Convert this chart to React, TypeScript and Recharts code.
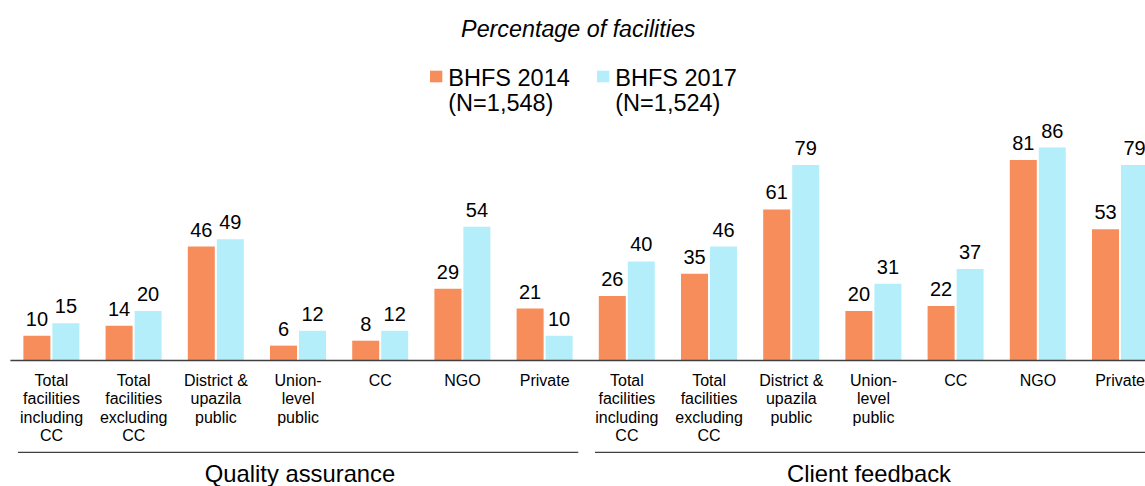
import React from "react";
import { BarChart, Bar, XAxis, YAxis, LabelList } from "recharts";

const categories: string[] = [
  "Total\nfacilities\nincluding\nCC",
  "Total\nfacilities\nexcluding\nCC",
  "District &\nupazila\npublic",
  "Union-\nlevel\npublic",
  "CC",
  "NGO",
  "Private",
  "Total\nfacilities\nincluding\nCC ",
  "Total\nfacilities\nexcluding\nCC ",
  "District &\nupazila\npublic ",
  "Union-\nlevel\npublic ",
  "CC ",
  "NGO ",
  "Private ",
];
const bhfs2014: number[] = [10, 14, 46, 6, 8, 29, 21, 26, 35, 61, 20, 22, 81, 53];
const bhfs2017: number[] = [15, 20, 49, 12, 12, 54, 10, 40, 46, 79, 31, 37, 86, 79];
const groups: string[] = ["Quality assurance", "Client feedback"];
const seriesNames: string[][] = [
  ["BHFS 2014", "(N=1,548)"],
  ["BHFS 2017", "(N=1,524)"],
];
const title = "Percentage of facilities";

const ORANGE = "#F68D5B";
const BLUE = "#B4EEFB";
const FONT = "'Liberation Sans', Arial, Helvetica, sans-serif";

const data = categories.map((c, i) => ({ cat: c, a: bhfs2014[i], b: bhfs2017[i] }));

const Tick = (props: any) => {
  const { x, y, payload } = props;
  const lines = String(payload.value).trim().split("\n");
  return (
    <text x={x} y={y + 17.5} textAnchor="middle" fontSize={16} fill="#000" fontFamily={FONT}>
      {lines.map((l, i) => (
        <tspan key={i} x={x} dy={i === 0 ? 0 : 18.3}>
          {l}
        </tspan>
      ))}
    </text>
  );
};

export default function App() {
  return (
    <div
      style={{
        position: "fixed",
        left: 0,
        top: 0,
        width: 1145,
        height: 486,
        overflow: "hidden",
        background: "#fff",
        fontFamily: FONT,
      }}
    >
      <BarChart
        width={1170}
        height={486}
        data={data}
        margin={{ top: 112.9, right: 8.8, bottom: 0, left: 10.4 }}
        barSize={27}
        barGap={2}
      >
        <XAxis
          dataKey="cat"
          height={125.5}
          interval={0}
          tickLine={false}
          axisLine={{ stroke: "#404040", strokeWidth: 1.3 }}
          tick={<Tick />}
        />
        <YAxis hide domain={[0, 100]} width={0} />
        <Bar dataKey="a" name="BHFS 2014" fill={ORANGE} isAnimationActive={false}>
          <LabelList dataKey="a" position="top" offset={10} fontSize={20} fill="#000" fontFamily={FONT} />
        </Bar>
        <Bar dataKey="b" name="BHFS 2017" fill={BLUE} isAnimationActive={false}>
          <LabelList dataKey="b" position="top" offset={10} fontSize={20} fill="#000" fontFamily={FONT} />
        </Bar>
      </BarChart>
      <svg
        width={1145}
        height={486}
        style={{ position: "absolute", left: 0, top: 0, pointerEvents: "none" }}
      >
        <text x={578.3} y={37.3} textAnchor="middle" fontSize={23.3} fontStyle="italic" fontFamily={FONT} fill="#000">
          {title}
        </text>
        {seriesNames.map((lines, i) => {
          const sx = i === 0 ? 430 : 597;
          return (
            <g key={i}>
              <rect x={sx} y={70.7} width={12.3} height={11.6} fill={i === 0 ? ORANGE : BLUE} />
              <text x={sx + 18.3} y={86} fontSize={23.5} fontFamily={FONT} fill="#000">
                <tspan x={sx + 18.3}>{lines[0]}</tspan>
                <tspan x={sx + 18.3} dy={25.2}>{lines[1]}</tspan>
              </text>
            </g>
          );
        })}
        <line x1={18} x2={578.3} y1={452.3} y2={452.3} stroke="#404040" strokeWidth={1.3} />
        <line x1={595} x2={1160} y1={452.3} y2={452.3} stroke="#404040" strokeWidth={1.3} />
        <text x={300} y={482} textAnchor="middle" fontSize={23.8} fontFamily={FONT} fill="#000">
          {groups[0]}
        </text>
        <text x={869} y={482} textAnchor="middle" fontSize={23.8} fontFamily={FONT} fill="#000">
          {groups[1]}
        </text>
      </svg>
    </div>
  );
}
